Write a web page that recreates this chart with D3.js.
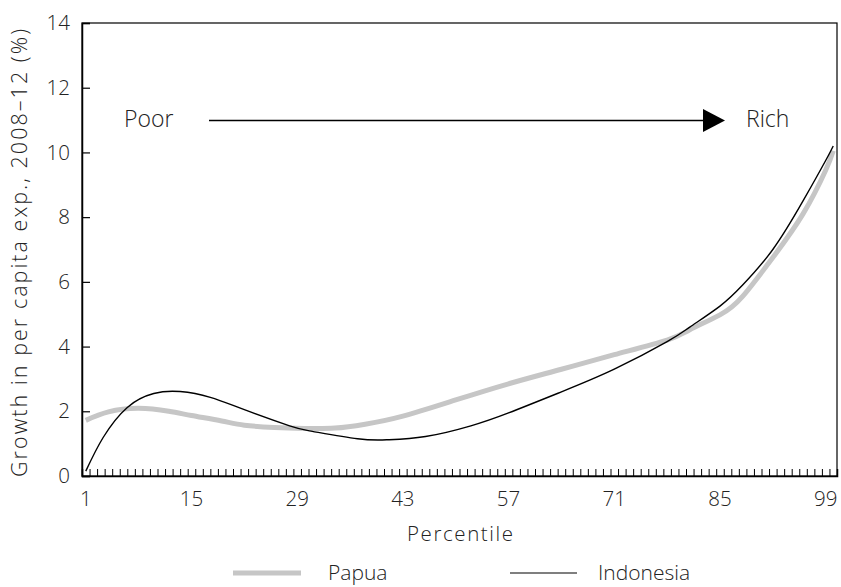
<!DOCTYPE html>
<html><head><meta charset="utf-8">
<script src="https://cdn.jsdelivr.net/npm/d3@7"></script>
<style>
body{margin:0;background:#fff;}
svg{display:block;font-family:"Open Sans", Lato, sans-serif;font-weight:300;}
</style></head>
<body><svg id="c" width="841" height="587"></svg>
<script>
// ---- data ----
const papuaPct = [1, 4, 8, 12, 15, 19, 22, 26, 30, 34, 38, 43, 50, 57, 64, 71, 78, 81, 85, 88, 92, 96, 99, 100];
const papuaVal = [1.72, 1.98, 2.09, 2.0, 1.87, 1.7, 1.57, 1.5, 1.47, 1.48, 1.6, 1.85, 2.35, 2.85, 3.3, 3.75, 4.2, 4.52, 4.98, 5.55, 6.75, 8.1, 9.45, 10.05];
const indoPct = [1, 3.3, 6.5, 10, 13.5, 17.5, 22, 28, 31, 37, 41, 46, 52, 57, 64, 71, 78, 81, 85, 88, 92, 96, 99, 100];
const indoVal = [0.15, 1.19, 2.12, 2.55, 2.61, 2.43, 2.05, 1.55, 1.38, 1.15, 1.12, 1.22, 1.55, 1.95, 2.6, 3.3, 4.15, 4.6, 5.25, 5.9, 7.0, 8.5, 9.75, 10.2];
const xTickLabels = [1, 15, 29, 43, 57, 71, 85, 99];
const yTickLabels = [0, 2, 4, 6, 8, 10, 12, 14];
const seriesNames = ["Papua", "Indonesia"];

const svg = d3.select("#c");
const L = 82, R = 837, T = 23, B = 476;
const x = d3.scaleLinear().domain([0.5, 100.5]).range([L, R]);
const y = d3.scaleLinear().domain([0, 14]).range([B, T]);
const txt = "#222";

// frame
svg.append("rect").attr("x", L).attr("y", T).attr("width", R - L).attr("height", B - T)
  .attr("fill", "none").attr("stroke", "#000").attr("stroke-width", 1.2);

// y axis: ticks inward
const yAx = svg.append("g").attr("transform", `translate(${L},0)`)
  .call(d3.axisRight(y).tickValues(yTickLabels).tickSize(8).tickFormat(""));
yAx.select(".domain").attr("stroke-width", 1.5);
yAx.selectAll(".tick line").attr("stroke-width", 1.2);
svg.append("g").selectAll("text").data(yTickLabels).join("text")
  .attr("x", L - 12).attr("y", d => y(d)).attr("dy", "0.35em")
  .attr("text-anchor", "end").attr("font-size", 20.5).attr("fill", txt).text(d => d);

// x axis: minor ticks on band edges, labels on centers
const edges = d3.range(0.5, 100.51, 1);
const xAx = svg.append("g").attr("transform", `translate(0,${B})`)
  .call(d3.axisTop(x).tickValues(edges).tickSize(7).tickFormat(""));
xAx.select(".domain").attr("stroke-width", 1.5);
xAx.selectAll(".tick line").attr("stroke-width", 1);
svg.append("g").selectAll("text").data(xTickLabels).join("text")
  .attr("x", d => x(d)).attr("y", B + 30).attr("text-anchor", "middle")
  .attr("font-size", 20.5).attr("fill", txt).text(d => d);

// axis titles
svg.append("text").attr("x", 460).attr("y", 541).attr("text-anchor", "middle")
  .attr("font-size", 20.5).attr("fill", txt)
  .attr("textLength", 106).attr("lengthAdjust", "spacing").text("Percentile");
svg.append("text").attr("transform", `translate(27,253) rotate(-90)`)
  .attr("text-anchor", "middle").attr("font-size", 21.5).attr("fill", txt)
  .attr("textLength", 448).attr("lengthAdjust", "spacing")
  .text("Growth in per capita exp., 2008–12 (%)");

// lines
const line = d3.line().x(d => x(d[0])).y(d => y(d[1])).curve(d3.curveNatural);
const papua = papuaPct.map((p, i) => [p, papuaVal[i]]);
const indo = indoPct.map((p, i) => [p, indoVal[i]]);
svg.append("path").datum(papua).attr("d", line).attr("fill", "none")
  .attr("stroke", "#c6c6c6").attr("stroke-width", 5);
svg.append("path").datum(indo).attr("d", line).attr("fill", "none")
  .attr("stroke", "#000").attr("stroke-width", 1.4);

// Poor -> Rich arrow
svg.append("text").attr("x", 124).attr("y", 127).attr("font-size", 23).attr("fill", txt).text("Poor");
svg.append("line").attr("x1", 209).attr("x2", 704).attr("y1", 120.5).attr("y2", 120.5)
  .attr("stroke", "#000").attr("stroke-width", 1.4);
svg.append("path").attr("d", "M703,109 L725,120.5 L703,132 Z").attr("fill", "#000");
svg.append("text").attr("x", 746).attr("y", 127).attr("font-size", 23).attr("fill", txt).text("Rich");

// legend
const lg = svg.append("g");
lg.append("line").attr("x1", 233).attr("x2", 301).attr("y1", 573).attr("y2", 573)
  .attr("stroke", "#c6c6c6").attr("stroke-width", 5);
lg.append("text").attr("x", 328).attr("y", 580).attr("font-size", 21).attr("fill", txt).text(seriesNames[0]);
lg.append("line").attr("x1", 510).attr("x2", 577).attr("y1", 573).attr("y2", 573)
  .attr("stroke", "#000").attr("stroke-width", 1.2);
lg.append("text").attr("x", 598).attr("y", 580).attr("font-size", 21).attr("fill", txt).text(seriesNames[1]);
</script></body></html>
